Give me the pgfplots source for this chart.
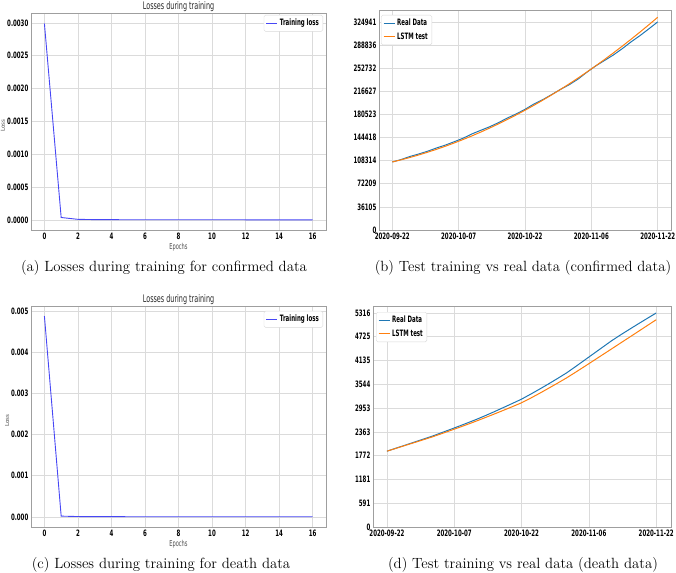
\documentclass[border=0pt]{standalone}
\usepackage{fontspec}
\usepackage{pgfplots}
\pgfplotsset{compat=1.18}
\newfontfamily\mplfam{DejaVu Sans}[FakeStretch=0.62]
\newfontfamily\mplplain{DejaVu Sans}
\newcommand\mplb{\mplfam\bfseries\fontsize{8.8}{10}\selectfont}
\newcommand\mplr{\mplfam\fontsize{10.4}{12}\selectfont}
\definecolor{cblue}{HTML}{1F77B4}
\definecolor{corange}{HTML}{FF7F0E}
\definecolor{lossblue}{rgb}{0.28,0.28,0.96}
\pgfplotsset{
  every axis title shift=0pt,
  mpl/.style={
    scale only axis, anchor=south west,
    axis line style={draw=gray!75, line width=0.8pt},
    grid=major, major grid style={draw=gray!28, line width=0.7pt},
    tick style={draw=none}, major tick length=0pt,
    scaled ticks=false,
    ticklabel style={font=\mplb},
    /pgf/number format/assume math mode=true,
    xticklabel style={inner sep=1pt, yshift=-1.5pt},
    yticklabel style={inner sep=1pt, xshift=-1.5pt},
    legend cell align=left,
    legend style={font=\mplb, draw=gray!30, rounded corners=1.5pt, inner sep=2pt, row sep=1.5pt},
    legend image code/.code={\draw[##1] (0pt,0pt) -- (11pt,0pt);},
    title style={font=\mplr, color=black!85, at={(axis description cs:0.5,1)}, anchor=base, inner sep=0pt, yshift=3.5pt},
    xlabel style={font=\mplfam\fontsize{8.2}{9}\selectfont, color=black!70, at={(axis description cs:0.5,0)}, anchor=center, yshift=-17pt},
    ylabel style={font=\mplplain\fontsize{5.5}{6}\selectfont, color=black!70, anchor=center},
  }
}
\begin{document}
\begin{tikzpicture}
\path[use as bounding box] (0pt,0pt) rectangle (676pt,572pt);

% (a)
\begin{axis}[mpl, at={(31pt,342pt)}, width=295pt, height=217pt,
  xmin=-0.8, xmax=16.8, ymin=-0.00015, ymax=0.00315,
  xtick={0,2,...,16},
  ytick={0,0.0005,0.001,0.0015,0.002,0.0025,0.003},
  yticklabels={0.0000,0.0005,0.0010,0.0015,0.0020,0.0025,0.0030},
  title={Losses during training}, xlabel={Epochs}, ylabel={Loss},
  ylabel style={at={(axis description cs:-0.095,0.48)}},
  legend style={at={(1,1)}, anchor=north east, xshift=-3pt, yshift=-2pt}]
\addplot[lossblue, line width=0.9pt] coordinates {
(0,0.00299) (1,0.00004) (2,0.000012) (3,0.000008) (4,0.000007) (5,0.000006)
(6,0.000006) (7,0.000006) (8,0.000006) (9,0.000006) (10,0.000006) (11,0.000006)
(12,0.000005) (13,0.000005) (14,0.000005) (15,0.000005) (16,0.000005)};
\addlegendentry{Training loss}
\end{axis}

% (b)
\begin{axis}[mpl, at={(379pt,342pt)}, width=292pt, height=220pt,
  xmin=-3, xmax=63, ymin=0, ymax=343500,
  xtick={0,15,30,45,60},
  xticklabels={2020-09-22,2020-10-07,2020-10-22,2020-11-06,2020-11-22},
  ytick={0,36105,72209,108314,144418,180523,216627,252732,288836,324941},
  yticklabels={0,36105,72209,108314,144418,180523,216627,252732,288836,324941},
  legend style={at={(0,1)}, anchor=north west, xshift=2pt, yshift=-5pt}]
\addplot[cblue, line width=1pt] coordinates {
(0,106200) (2,109990) (4,114800) (6,118685) (8,122997) (10,128050) (12,132545)
(14,137781) (16,143259) (18,149979) (20,155640) (22,161143) (24,167587) (26,174773)
(28,181201) (30,188370) (32,196681) (34,203433) (36,211327) (38,219463) (40,226840)
(42,235659) (44,246419) (46,256221) (48,264765) (50,273350) (52,283177) (54,293845)
(56,303555) (58,314107) (60,324941)};
\addlegendentry{Real Data}
\addplot[corange, line width=1pt] coordinates {
(0,106200) (2,109579) (4,113245) (6,117197) (8,121435) (10,125960) (12,130771)
(14,135869) (16,141253) (18,146923) (20,152880) (22,159123) (24,165653) (26,172469)
(28,179571) (30,186960) (32,194635) (34,202597) (36,210845) (38,219379) (40,228200)
(42,237307) (44,246701) (46,256381) (48,266347) (50,276600) (52,287139) (54,297965)
(56,309077) (58,320475) (60,332160)};
\addlegendentry{LSTM test}
\end{axis}

% (c)
\begin{axis}[mpl, at={(31pt,45pt)}, width=295pt, height=221pt,
  xmin=-0.8, xmax=16.8, ymin=-0.000244, ymax=0.005124,
  xtick={0,2,...,16},
  ytick={0,0.001,0.002,0.003,0.004,0.005},
  yticklabels={0.000,0.001,0.002,0.003,0.004,0.005},
  title={Losses during training}, xlabel={Epochs}, ylabel={Loss},
  ylabel style={at={(axis description cs:-0.081,0.48)}},
  legend style={at={(1,1)}, anchor=north east, xshift=-3pt, yshift=-5pt}]
\addplot[lossblue, line width=0.9pt] coordinates {
(0,0.00488) (1,0.00002) (2,0.00001) (3,0.000008) (4,0.000007) (5,0.000006)
(6,0.000006) (7,0.000006) (8,0.000005) (9,0.000005) (10,0.000005) (11,0.000005)
(12,0.000005) (13,0.000005) (14,0.000005) (15,0.000005) (16,0.000005)};
\addlegendentry{Training loss}
\end{axis}

% (d)
\begin{axis}[mpl, at={(373pt,45pt)}, width=298pt, height=221pt,
  xmin=-3.1, xmax=63.3, ymin=0, ymax=5490,
  xtick={0,15,30,45,60},
  xticklabels={2020-09-22,2020-10-07,2020-10-22,2020-11-06,2020-11-22},
  ytick={0,591,1181,1772,2363,2953,3544,4135,4725,5316},
  yticklabels={0,591,1181,1772,2363,2953,3544,4135,4725,5316},
  legend style={at={(0,1)}, anchor=north west, xshift=3pt, yshift=-6pt}]
\addplot[cblue, line width=1pt] coordinates {
(0,1883) (2,1957) (4,2031) (6,2104) (8,2178) (10,2253) (12,2335) (14,2418)
(16,2502) (18,2588) (20,2676) (22,2770) (24,2868) (26,2970) (28,3072) (30,3176)
(32,3298) (34,3424) (36,3554) (38,3688) (40,3826) (42,3982) (44,4142) (46,4302)
(48,4462) (50,4622) (52,4768) (54,4908) (56,5046) (58,5182) (60,5316)};
\addlegendentry{Real Data}
\addplot[corange, line width=1pt] coordinates {
(0,1883) (2,1953) (4,2023) (6,2093) (8,2163) (10,2234) (12,2311) (14,2390)
(16,2470) (18,2551) (20,2635) (22,2722) (24,2810) (26,2900) (28,2992) (30,3086)
(32,3200) (34,3320) (36,3445) (38,3572) (40,3702) (42,3842) (44,3985) (46,4130)
(48,4275) (50,4420) (52,4566) (54,4711) (56,4857) (58,5003) (60,5149)};
\addlegendentry{LSTM test}
\end{axis}

\node[anchor=base, font=\fontsize{14.8}{17}\selectfont] at (164pt,300pt) {(a) Losses during training for confirmed data};
\node[anchor=base, font=\fontsize{14.8}{17}\selectfont] at (523pt,300pt) {(b) Test training vs real data (confirmed data)};
\node[anchor=base, font=\fontsize{14.8}{17}\selectfont] at (161pt,3.5pt) {(c) Losses during training for death data};
\node[anchor=base, font=\fontsize{14.8}{17}\selectfont] at (523pt,3.5pt) {(d) Test training vs real data (death data)};
\end{tikzpicture}
\end{document}
